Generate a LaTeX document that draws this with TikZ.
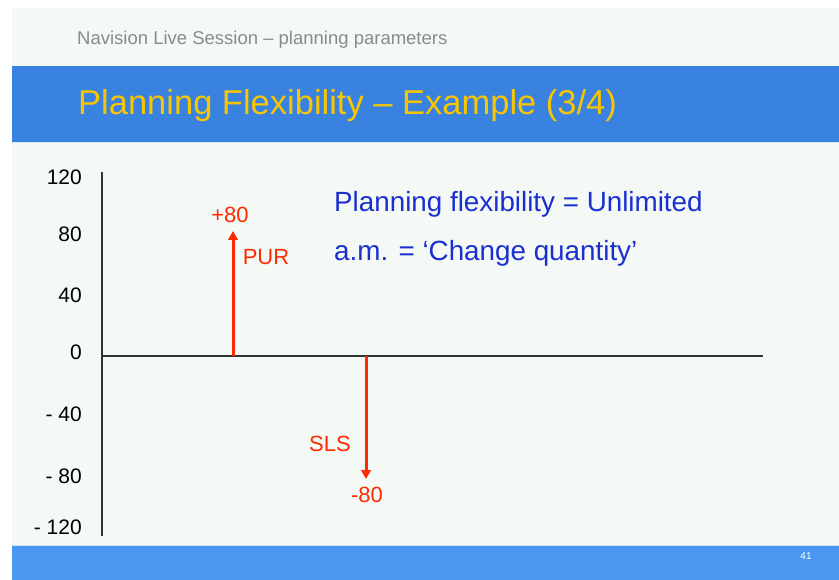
\documentclass[tikz,border=0pt]{standalone}
\usepackage{fontspec}
\setmainfont{Liberation Sans}
\usetikzlibrary{arrows.meta}
\definecolor{slidebg}{HTML}{F5F9F6}
\definecolor{headblue}{HTML}{3A82DF}
\definecolor{footblue}{HTML}{4A98F2}
\definecolor{titlegold}{HTML}{F7C600}
\definecolor{bodyblue}{HTML}{1A2FD0}
\definecolor{redlbl}{HTML}{FF2A00}
\definecolor{axisgray}{HTML}{333333}
\definecolor{headgray}{HTML}{8A8A8A}
\tikzset{
  axislbl/.style={anchor=east,inner sep=0pt,font=\fontsize{21}{24}\selectfont,text=black},
  redtxt/.style={inner sep=0pt,font=\fontsize{22}{25}\selectfont,text=redlbl},
  bluetxt/.style={anchor=west,inner sep=0pt,font=\fontsize{27.8}{32}\selectfont,text=bodyblue},
  axisline/.style={draw=axisgray,line width=2pt},
  flow/.style={draw=redlbl,line width=3pt,-{Triangle[length=9pt,width=9.5pt]}}
}
\begin{document}
\begin{tikzpicture}[x=1pt,y=-1pt]
\useasboundingbox (0,0) rectangle (839,580);
\fill[white] (0,0) rectangle (839,580);
\fill[slidebg] (12,8) rectangle (839,546);
\fill[headblue] (12,66) rectangle (839,142);
\draw[white!80!headblue,line width=1pt] (12,142.5) -- (839,142.5);
\fill[footblue] (12,546) rectangle (839,580);
\draw[white!70!footblue,line width=1pt] (12,545.5) -- (839,545.5);
\node[anchor=west,inner sep=0pt,font=\fontsize{18.5}{21}\selectfont,text=headgray] (hdr) at (77,40) {Navision Live Session – planning parameters};
\node[anchor=west,inner sep=0pt,font=\fontsize{34.5}{38}\selectfont,text=titlegold] (title) at (78,106) {Planning Flexibility – Example (3/4)};
\node[inner sep=0pt,font=\fontsize{10}{12}\selectfont,text=white] (pg) at (806,556) {41};
% axes
\coordinate (ytop) at (102,172);
\coordinate (ybot) at (102,536);
\coordinate (origin) at (102,356);
\coordinate (xend) at (763,356);
\draw[axisline] (ytop) -- (ybot);
\draw[axisline] (origin) -- (xend);
\node[axislbl] (l120) at (82,177) {120};
\node[axislbl] (l80) at (82,234) {80};
\node[axislbl] (l40) at (82,295) {40};
\node[axislbl] (l0) at (82,352) {0};
\node[axislbl] (lm40) at (82,414) {- 40};
\node[axislbl] (lm80) at (82,476) {- 80};
\node[axislbl] (lm120) at (82,527) {- 120};
% flows
\coordinate (purbase) at (233,356);
\coordinate (purtip) at (233,231);
\coordinate (slsbase) at (366,356);
\coordinate (slstip) at (366,479);
\draw[flow] (purbase) -- (purtip);
\draw[flow] (slsbase) -- (slstip);
\node[redtxt] (p80) at (230,215) {+80};
\node[redtxt] (pur) at (266,257) {PUR};
\node[redtxt] (sls) at (330,444) {SLS};
\node[redtxt] (m80) at (367,495) {-80};
% texts
\node[bluetxt] (t1) at (334,204) {Planning flexibility = Unlimited};
\node[bluetxt] (t2) at (334,253) {a.m. = ‘Change quantity’};
\end{tikzpicture}
\end{document}
